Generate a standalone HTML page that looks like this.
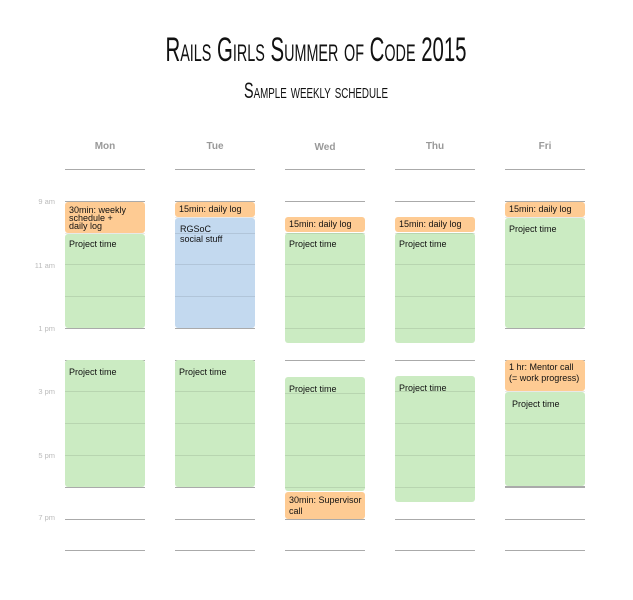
<!DOCTYPE html>
<html><head><meta charset="utf-8"><style>
html,body{margin:0;padding:0;background:#fff;}
svg{display:block}
text{font-family:"Liberation Sans",sans-serif;}
</style></head><body>
<svg width="633" height="600" viewBox="0 0 633 600" xmlns="http://www.w3.org/2000/svg">
<text x="316" y="61" text-anchor="middle" font-size="34" style="font-variant:small-caps;font-family:'Liberation Sans Narrow','Liberation Sans',sans-serif" textLength="301" lengthAdjust="spacingAndGlyphs" fill="#111">Rails Girls Summer of Code 2015</text>
<text x="316" y="98" text-anchor="middle" font-size="22" style="font-variant:small-caps;font-family:'Liberation Sans Narrow','Liberation Sans',sans-serif" textLength="144" lengthAdjust="spacingAndGlyphs" fill="#111">Sample weekly schedule</text>
<g font-size="10" font-weight="bold" fill="#999" text-anchor="middle">
<text x="105" y="149">Mon</text><text x="215" y="149">Tue</text><text x="325" y="150">Wed</text><text x="435" y="149">Thu</text><text x="545" y="149">Fri</text>
</g>
<g font-size="7.5" fill="#bbb" text-anchor="end">
<text x="55" y="204">9 am</text><text x="55" y="268">11 am</text><text x="55" y="331">1 pm</text><text x="55" y="394">3 pm</text><text x="55" y="458">5 pm</text><text x="55" y="520">7 pm</text>
</g>
<g stroke="#aaa" stroke-width="1">
<path d="M65 169.5h80M175 169.5h80M285 169.5h80M395 169.5h80M505 169.5h80"/>
<path d="M65 201.5h80M175 201.5h80M285 201.5h80M395 201.5h80M505 201.5h80"/>
<path d="M65 328.5h80M175 328.5h80M285 360.5h80M395 360.5h80M505 328.5h80"/>
<path d="M65 360.5h80M175 360.5h80M505 360.5h80"/>
<path d="M65 487.5h80M175 487.5h80M505 487.5h80M395 519.5h80M285 519.5h80"/>
<path d="M65 519.5h80M175 519.5h80M505 519.5h80"/>
<path d="M65 550.5h80M175 550.5h80M285 550.5h80M395 550.5h80M505 550.5h80"/>
</g>
<g>
<!-- Mon -->
<rect x="65" y="202" width="80" height="31" rx="3" fill="#fecb93"/>
<rect x="65" y="234" width="80" height="94" rx="3" fill="#cbebc2"/>
<rect x="65" y="360" width="80" height="127" rx="3" fill="#cbebc2"/>
<!-- Tue -->
<rect x="175" y="202" width="80" height="15" rx="3" fill="#fecb93"/>
<rect x="175" y="218" width="80" height="110" rx="3" fill="#c3d9ef"/>
<rect x="175" y="360" width="80" height="127" rx="3" fill="#cbebc2"/>
<!-- Wed -->
<rect x="285" y="217" width="80" height="15" rx="3" fill="#fecb93"/>
<rect x="285" y="233" width="80" height="110" rx="3" fill="#cbebc2"/>
<rect x="285" y="377" width="80" height="114" rx="3" fill="#cbebc2"/>
<rect x="285" y="492" width="80" height="27" rx="3" fill="#fecb93"/>
<!-- Thu -->
<rect x="395" y="217" width="80" height="15" rx="3" fill="#fecb93"/>
<rect x="395" y="233" width="80" height="110" rx="3" fill="#cbebc2"/>
<rect x="395" y="376" width="80" height="126" rx="3" fill="#cbebc2"/>
<!-- Fri -->
<rect x="505" y="202" width="80" height="15" rx="3" fill="#fecb93"/>
<rect x="505" y="218" width="80" height="110" rx="3" fill="#cbebc2"/>
<rect x="505" y="360" width="80" height="31" rx="3" fill="#fecb93"/>
<rect x="505" y="392" width="80" height="94" rx="3" fill="#cbebc2"/>
</g>
<g stroke="#000" stroke-opacity="0.09" stroke-width="1">
<path d="M65 233.5h80M65 264.5h80M65 296.5h80M65 391.5h80M65 423.5h80M65 455.5h80"/>
<path d="M175 217.5h80M175 233.5h80M175 264.5h80M175 296.5h80M175 391.5h80M175 423.5h80M175 455.5h80"/>
<path d="M285 233.5h80M285 264.5h80M285 296.5h80M285 328.5h80M285 393.5h80M285 423.5h80M285 455.5h80M285 487.5h80"/>
<path d="M395 233.5h80M395 264.5h80M395 296.5h80M395 328.5h80M395 391.5h80M395 423.5h80M395 455.5h80M395 487.5h80"/>
<path d="M505 217.5h80M505 264.5h80M505 296.5h80M505 391.5h80M505 423.5h80M505 455.5h80"/>
</g>
<g stroke="#aaa"><path d="M285 519.5h80M505 486.5h80"/></g>
<g font-size="9" fill="#111">
<text x="69" y="213">30min: weekly</text><text x="69" y="221">schedule +</text><text x="69" y="229">daily log</text>
<text x="69" y="247">Project time</text>
<text x="69" y="375">Project time</text>
<text x="179" y="212">15min: daily log</text>
<text x="180" y="232">RGSoC</text><text x="180" y="242">social stuff</text>
<text x="179" y="375">Project time</text>
<text x="289" y="227">15min: daily log</text>
<text x="289" y="247">Project time</text>
<text x="289" y="392">Project time</text>
<text x="289" y="503">30min: Supervisor</text><text x="289" y="514">call</text>
<text x="399" y="227">15min: daily log</text>
<text x="399" y="247">Project time</text>
<text x="399" y="391">Project time</text>
<text x="509" y="212">15min: daily log</text>
<text x="509" y="232">Project time</text>
<text x="509" y="370">1 hr: Mentor call</text><text x="509" y="381">(= work progress)</text>
<text x="512" y="407">Project time</text>
</g>
</svg>
</body></html>
